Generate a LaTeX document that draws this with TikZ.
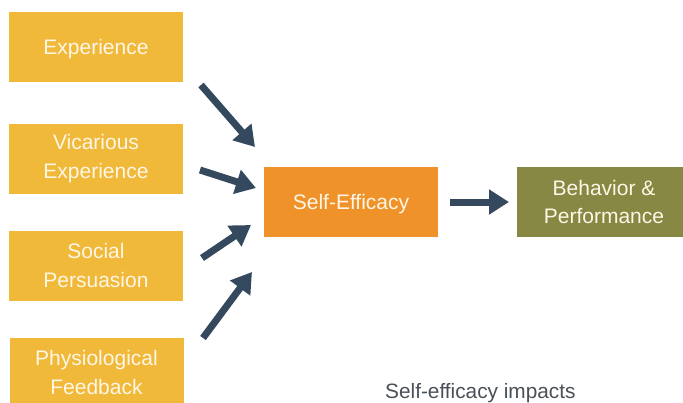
\documentclass[tikz,border=0pt]{standalone}
\usepackage{fontspec}
\setmainfont{Liberation Sans}
\usetikzlibrary{arrows.meta}
\definecolor{srcyellow}{HTML}{F0B93A}
\definecolor{coreorange}{HTML}{F0922A}
\definecolor{outolive}{HTML}{868843}
\definecolor{arrowslate}{HTML}{34495E}
\definecolor{boxtext}{HTML}{FFF6E6}
\definecolor{captiongray}{HTML}{4A5058}
\newcommand{\lowertext}[1]{\raisebox{-2.5pt}[\height][\depth]{#1}}
\tikzset{
  box/.style={rectangle, minimum width=174pt, minimum height=70pt, inner sep=0pt,
    text=boxtext, align=center, font=\fontsize{21}{28.5}\selectfont},
  source/.style={box, fill=srcyellow},
  flowarrow/.style={draw=arrowslate, line width=7pt,
    -{Triangle[length=20pt,width=24pt]}},
}
\begin{document}
\begin{tikzpicture}[x=1pt,y=-1pt]
  \useasboundingbox (0,0) rectangle (683,402);
  \clip (0,0) rectangle (683,402);
  % four sources of self-efficacy
  \node[source] (exp) at (96,46.5) {\lowertext{Experience}};
  \node[source] (vic) at (96,158.5) {Vicarious\\Experience};
  \node[source] (soc) at (96,265.5) {Social\\Persuasion};
  \node[source] (phy) at (96.5,372.5) {Physiological\\Feedback};
  % central construct and its outcome
  \node[box, fill=coreorange] (se) at (351,202) {\lowertext{Self-Efficacy}};
  \node[box, fill=outolive] (bp) at (604,202) {Behavior \&\\Performance};
  % arrow end points
  \coordinate (a1s) at (201,85);
  \coordinate (a1e) at (255,147);
  \coordinate (a2s) at (200,170);
  \coordinate (a2e) at (256,188);
  \coordinate (a3s) at (202,258);
  \coordinate (a3e) at (251,225);
  \coordinate (a4s) at (203,338);
  \coordinate (a4e) at (252,272);
  \coordinate (a5s) at (450,202);
  \coordinate (a5e) at (509,202);
  \draw[flowarrow] (a1s) -- (a1e);
  \draw[flowarrow] (a2s) -- (a2e);
  \draw[flowarrow] (a3s) -- (a3e);
  \draw[flowarrow] (a4s) -- (a4e);
  \draw[flowarrow] (a5s) -- (a5e);
  % caption
  \node[anchor=base west, inner sep=0pt, text=captiongray,
    font=\fontsize{20.8}{24}\selectfont] (cap) at (385,398.5) {Self-efficacy impacts};
\end{tikzpicture}
\end{document}
